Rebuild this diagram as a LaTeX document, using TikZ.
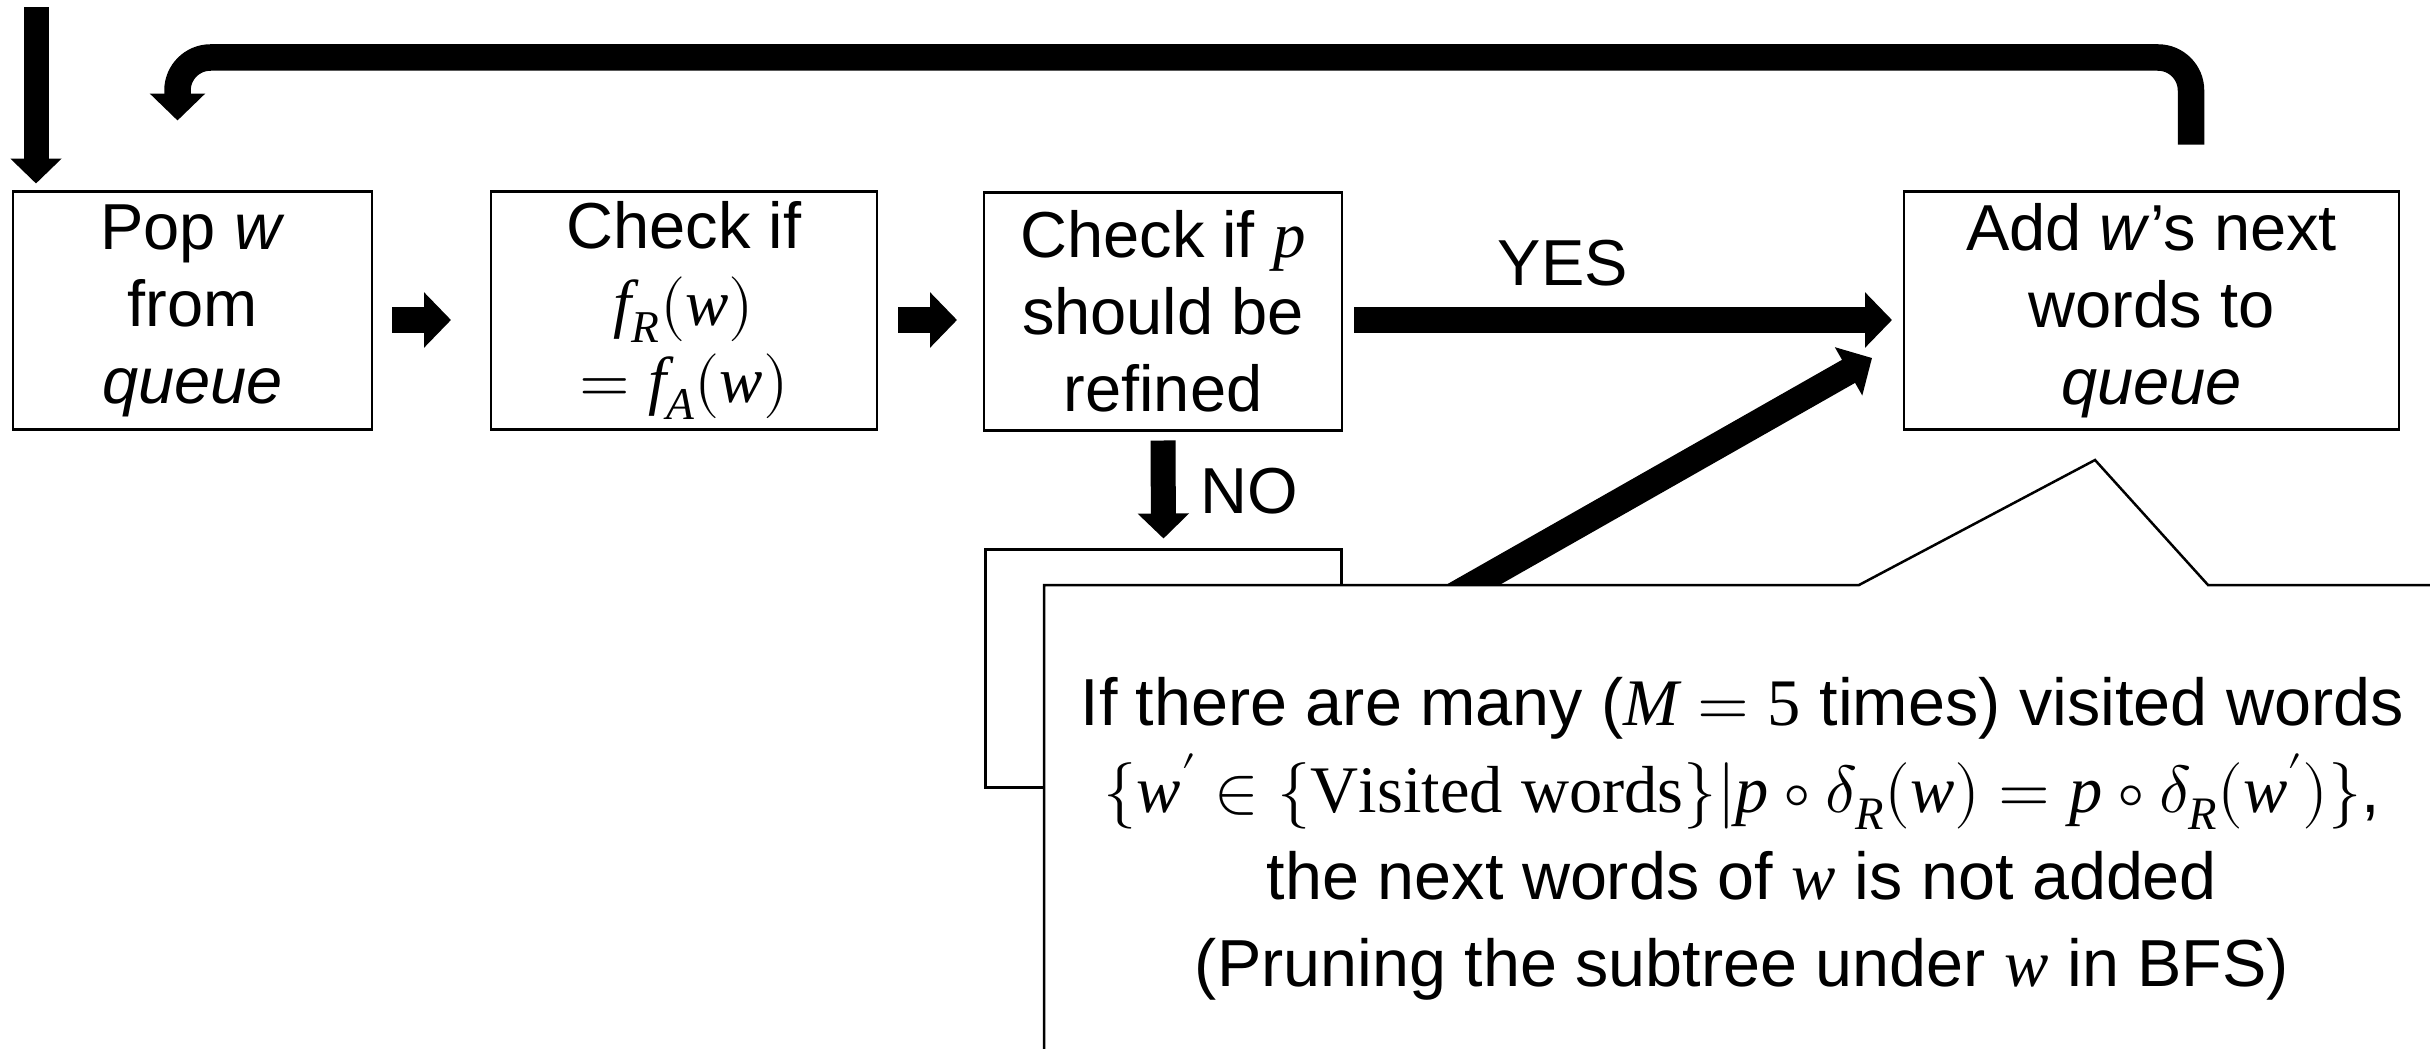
\documentclass[tikz,border=0pt]{standalone}
\usepackage{fontspec}
\usepackage{unicode-math}
\setmainfont{Liberation Sans}
\setmathfont{Latin Modern Math}
\setmathfont{Liberation Serif Italic}[range=it/{Latin,latin}]
\setmathfont{Liberation Serif}[range=up/{Latin,latin,num}]
\usetikzlibrary{arrows.meta,calc}

\newcommand\boxfont{\fontsize{65}{77}\selectfont}
\newcommand\notefont{\fontsize{66.5}{87}\selectfont}

\begin{document}
\begin{tikzpicture}[x=1pt,y=-1pt,
  every node/.style={inner sep=0pt, outer sep=0pt},
  stepbox/.style={draw, line width=2.8pt, minimum width=#1, minimum height=238pt,
                  align=center, font=\boxfont},
  blockarrow/.style={line width=26.5pt, -{Triangle[length=27pt,width=54pt]}},
  slimarrow/.style={line width=25pt, -{Triangle[length=25pt,width=50pt]}},
  lbl/.style={font=\boxfont}]

  % page
  \fill[white] (0,0) rectangle (2430,1049);
  \useasboundingbox (0,0) rectangle (2430,1049);
  \clip (0,0) rectangle (2430,1049);

  % process steps
  \node[stepbox=359pt] (pop) at (192.5,310.5) {Pop \textit{w}\\from\\\textit{queue}};
  \node[stepbox=386pt] (chk) at (684,310.5) {Check if\\$f_R(w)$\\$= f_A(w)$};
  \node[stepbox=358pt] (ref) at (1163,311.5) {Check if $p$\\should be\\refined};
  \node[stepbox=495pt] (add) at (2151.5,310.5) {Add \textit{w}’s next\\words to\\\textit{queue}};
  \node[stepbox=356pt] (skip) at (1163.5,668.5) {};

  % entry and loop-back points
  \coordinate (entry) at ($(pop.north west)+(23,-184)$);
  \coordinate (loopout) at ($(add.north)+(39.5,-47)$);
  \coordinate (loopin) at ($(pop.north)+(-15,-71)$);
  \coordinate (diagtip) at (1872,358);

  % connectors
  \draw[slimarrow] (entry) -- ($(pop.north west)+(23,-8)$);
  \draw[blockarrow, rounded corners=33pt]
    (loopout) -- (loopout |- 0,57.5) -- (loopin |- 0,57.5) -- (loopin);
  \draw[blockarrow] ($(pop.east)+(20,9.5)$) -- ($(chk.west)+(-40,9.5)$);
  \draw[blockarrow] ($(chk.east)+(21,9.5)$) -- ($(ref.west)+(-27,8.5)$);
  \draw[blockarrow] ($(ref.east)+(12,8.5)$) -- node[lbl, pos=0.36, xshift=15pt, yshift=57pt] (yes) {YES} ($(add.west)+(-12,9.5)$);
  \draw[slimarrow] ($(ref.south)+(0,10)$) -- node[lbl, anchor=west, xshift=37pt, yshift=-2pt] (no) {NO} ($(skip.north)+(0,-11)$);
  \draw[blockarrow] ($(skip.east)+(0,-9)$) -- (diagtip);

  % pruning note
  \fill[white] (1044,1070) -- (1044,585) -- (1859,585) -- (2095,460) -- (2208,585)
    -- (2450,585) -- (2450,1070) -- cycle;
  \draw[line width=2.5pt] (1044,1070) -- (1044,585) -- (1859,585) -- (2095,460)
    -- (2208,585) -- (2450,585);
  \node[font=\notefont, align=center] (note) at (1742,839)
    {If there are many ($M = 5$ times) visited words\\
     $\{w' \in \{\symup{Visited\ words}\} | p \circ \delta_R(w) = p \circ \delta_R(w')\}$,\\
     the next words of $w$ is not added\\
     (Pruning the subtree under $w$ in BFS)};
\end{tikzpicture}
\end{document}
